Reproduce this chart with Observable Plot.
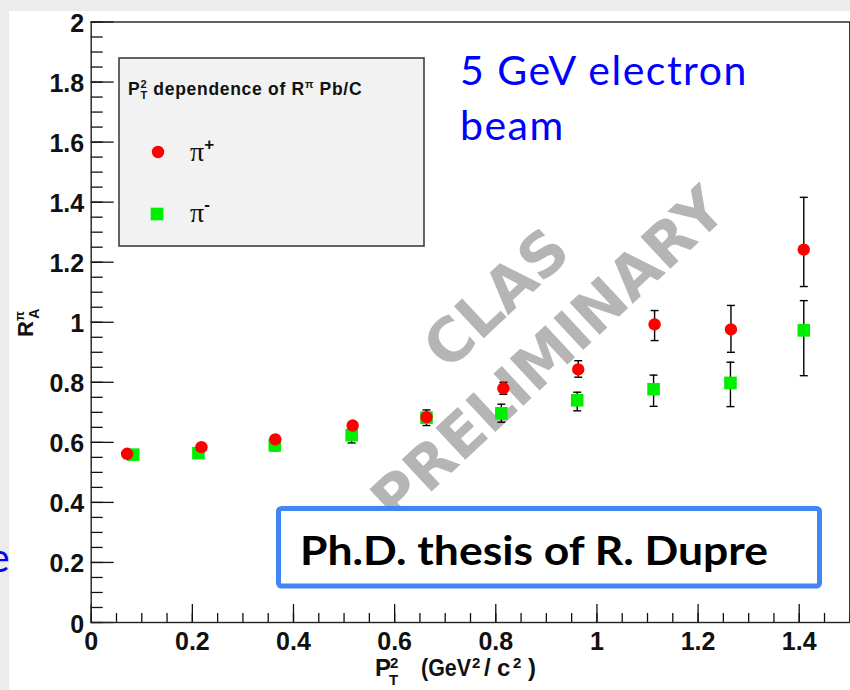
<!DOCTYPE html>
<html><head><meta charset="utf-8">
<script src="https://cdn.jsdelivr.net/npm/d3@7"></script>
<script src="https://cdn.jsdelivr.net/npm/@observablehq/plot@0.6"></script>
<style>
html,body{margin:0;padding:0;background:#ececec;}
#chart svg{display:block;}
</style></head><body><div id="chart"></div>
<script>
// pi+ (red circles)
const ptPlus  = [0.071, 0.218, 0.364, 0.517, 0.663, 0.815, 0.963, 1.114, 1.265, 1.409];
const rPlus   = [0.562, 0.584, 0.610, 0.656, 0.684, 0.780, 0.843, 0.993, 0.976, 1.242];
const rPlusLo = [0.554, 0.576, 0.600, 0.644, 0.672, 0.760, 0.817, 0.939, 0.900, 1.119];
const rPlusHi = [0.570, 0.592, 0.620, 0.668, 0.696, 0.800, 0.872, 1.039, 1.056, 1.416];
// pi- (green squares)
const ptMinus  = [0.083, 0.212, 0.363, 0.515, 0.663, 0.811, 0.961, 1.112, 1.264, 1.409];
const rMinus   = [0.559, 0.564, 0.590, 0.624, 0.682, 0.697, 0.740, 0.777, 0.798, 0.973];
const rMinusLo = [0.545, 0.549, 0.572, 0.598, 0.656, 0.667, 0.705, 0.720, 0.719, 0.822];
const rMinusHi = [0.573, 0.579, 0.607, 0.651, 0.708, 0.727, 0.767, 0.824, 0.867, 1.072];

const xTickValues = [0, 0.2, 0.4, 0.6, 0.8, 1, 1.2, 1.4];
const xTickLabels = ["0", "0.2", "0.4", "0.6", "0.8", "1", "1.2", "1.4"];
const yTickValues = [0, 0.2, 0.4, 0.6, 0.8, 1, 1.2, 1.4, 1.6, 1.8, 2];
const yTickLabels = ["0", "0.2", "0.4", "0.6", "0.8", "1", "1.2", "1.4", "1.6", "1.8", "2"];
const xMinor = d3.range(0, 1.5001, 0.05);
const yMinor = d3.range(0, 2.0001, 0.05);

const plus = ptPlus.map((x, i) => ({x, y: rPlus[i], lo: rPlusLo[i], hi: rPlusHi[i]}));
const minus = ptMinus.map((x, i) => ({x, y: rMinus[i], lo: rMinusLo[i], hi: rMinusHi[i]}));

const cap = {draw(ctx, size) { const h = Math.sqrt(size / Math.PI); ctx.moveTo(-h, 0); ctx.lineTo(h, 0); }};
const fmt = (vals, labs) => d => labs[vals.indexOf(d)];
const axFont = {fontSize: 25, fontWeight: "bold", fill: "#111"};

function errMarks(data) {
  return [
    Plot.ruleX(data, {x: "x", y1: "lo", y2: "hi", stroke: "#000", strokeWidth: 1.4}),
    Plot.dot(data, {x: "x", y: "lo", symbol: cap, r: 4, stroke: "#000", strokeWidth: 1.4}),
    Plot.dot(data, {x: "x", y: "hi", symbol: cap, r: 4, stroke: "#000", strokeWidth: 1.4})
  ];
}

const chart = Plot.plot({
  width: 850, height: 690,
  marginLeft: 90.7, marginRight: 0.7, marginTop: 21.5, marginBottom: 68,
  x: {domain: [0, 1.5], axis: null},
  y: {domain: [0, 2], axis: null},
  style: {background: "white", fontFamily: "'Liberation Sans', Arial, sans-serif", color: "#111", overflow: "visible"},
  marks: [
    Plot.axisX({ticks: xMinor, tickSize: -9, fill: "none", stroke: "#111", strokeWidth: 1.3, label: null}),
    Plot.axisX({ticks: xTickValues, tickSize: -18, fill: "none", stroke: "#111", strokeWidth: 1.3, label: null}),
    Plot.axisX({ticks: xTickValues, tickSize: 0, tickPadding: 10, tickFormat: fmt(xTickValues, xTickLabels), ...axFont, label: null}),
    Plot.axisY({ticks: yMinor, tickSize: -12, fill: "none", stroke: "#111", strokeWidth: 1.3, label: null}),
    Plot.axisY({ticks: yTickValues, tickSize: -23, fill: "none", stroke: "#111", strokeWidth: 1.3, label: null}),
    Plot.axisY({ticks: yTickValues, tickSize: 0, tickPadding: 7, dy: 2, tickFormat: fmt(yTickValues, yTickLabels), ...axFont, label: null}),
    Plot.frame({stroke: "#222", strokeWidth: 1.4}),
    ...errMarks(minus),
    Plot.dot(minus, {x: "x", y: "y", symbol: "square", r: 7.1, fill: "#00ee00"}),
    ...errMarks(plus),
    Plot.dot(plus, {x: "x", y: "y", r: 6.2, fill: "#ff0000"})
  ]
});
chart.style.boxShadow = "inset 9px 11px 0 #ececec";
document.getElementById("chart").appendChild(chart);

const svg = d3.select(chart);

// watermark (below data)
const wm = svg.insert("g", "g").attr("fill", "#b5b5b5").attr("font-family", "'DejaVu Sans', sans-serif").attr("font-weight", "bold").attr("font-size", 60).attr("text-anchor", "middle");
wm.append("text").attr("transform", "translate(496,298) rotate(-43)").attr("dominant-baseline", "central").text("CLAS");
wm.append("text").attr("transform", "translate(548,354) rotate(-43)").attr("dominant-baseline", "central").text("PRELIMINARY");

// x-axis title
const xt = svg.append("text").attr("text-anchor", "start").attr("font-size", 24).attr("font-weight", "bold").attr("fill", "#111");
xt.append("tspan").attr("x", 375).attr("y", 676).text("P");
xt.append("tspan").attr("x", 390).attr("y", 668).attr("font-size", 15).text("2");
xt.append("tspan").attr("x", 389).attr("y", 685).attr("font-size", 15).text("T");
xt.append("tspan").attr("x", 421).attr("y", 676).attr("textLength", 50).attr("lengthAdjust", "spacingAndGlyphs").text("(GeV");
xt.append("tspan").attr("x", 472).attr("y", 668).attr("font-size", 15).text("2");
xt.append("tspan").attr("x", 484).attr("y", 676).text("/");
xt.append("tspan").attr("x", 497).attr("y", 676).text("c");
xt.append("tspan").attr("x", 513).attr("y", 668).attr("font-size", 15).text("2");
xt.append("tspan").attr("x", 528).attr("y", 676).text(")");

// y-axis title
const yt = svg.append("text").attr("transform", "translate(33,337) rotate(-90)").attr("text-anchor", "start").attr("font-size", 22).attr("font-weight", "bold").attr("fill", "#111");
yt.append("tspan").text("R");
yt.append("tspan").attr("dy", -9).attr("font-size", 13).text("π");
yt.append("tspan").attr("dx", -7.5).attr("dy", 15).attr("font-size", 14).text("A");

// legend
const lg = svg.append("g").attr("text-anchor", "start");
lg.append("rect").attr("x", 119).attr("y", 58).attr("width", 305).attr("height", 188).attr("fill", "#f2f2f2").attr("stroke", "#333").attr("stroke-width", 1.5);
const lt = lg.append("text").attr("x", 128).attr("y", 95).attr("font-size", 17.5).attr("letter-spacing", 0.7).attr("font-weight", "bold").attr("fill", "#111");
lt.append("tspan").text("P");
lt.append("tspan").attr("dy", -7).attr("font-size", 11).text("2");
lt.append("tspan").attr("dx", -6.8).attr("dy", 11).attr("font-size", 11).text("T");
lt.append("tspan").attr("dy", -4).text(" dependence of R");
lt.append("tspan").attr("dy", -7).attr("font-size", 11).text("π");
lt.append("tspan").attr("dy", 7).text(" Pb/C");
lg.append("circle").attr("cx", 158).attr("cy", 152).attr("r", 6.2).attr("fill", "#ff0000");
lg.append("rect").attr("x", 150.7).attr("y", 207.7).attr("width", 12.6).attr("height", 12.6).attr("fill", "#00ee00");
const p1 = lg.append("text").attr("x", 190).attr("y", 161).attr("font-size", 28).attr("font-family", "'Liberation Serif', serif").attr("fill", "#111");
p1.append("tspan").text("π");
p1.append("tspan").attr("dy", -11).attr("font-size", 17).attr("font-weight", "bold").attr("font-family", "'Liberation Sans', sans-serif").text("+");
const p2 = lg.append("text").attr("x", 190).attr("y", 222).attr("font-size", 28).attr("font-family", "'Liberation Serif', serif").attr("fill", "#111");
p2.append("tspan").text("π");
p2.append("tspan").attr("dy", -12).attr("font-size", 17).attr("font-weight", "bold").attr("font-family", "'Liberation Sans', sans-serif").text("-");

// slide annotations
const ann = svg.append("g").attr("font-family", "Lato, sans-serif").attr("text-anchor", "start");
ann.append("text").attr("x", 460).attr("y", 85).attr("font-size", 41).attr("letter-spacing", 1.5).attr("fill", "#0000ff").text("5 GeV electron");
ann.append("text").attr("x", 460).attr("y", 140).attr("font-size", 41).attr("letter-spacing", 1.5).attr("fill", "#0000ff").text("beam");
ann.append("text").attr("x", -12).attr("y", 572).attr("font-size", 41).attr("fill", "#0000ff").text("e");
ann.append("rect").attr("x", 278.5).attr("y", 508.5).attr("width", 541).attr("height", 77.5).attr("rx", 3).attr("fill", "white").attr("stroke", "#4285f4").attr("stroke-width", 5);
ann.append("text").attr("x", 300).attr("y", 565).attr("font-size", 41).attr("font-weight", "bold").attr("fill", "#000").attr("textLength", 468).attr("lengthAdjust", "spacingAndGlyphs").text("Ph.D. thesis of R. Dupre");
</script></body></html>
